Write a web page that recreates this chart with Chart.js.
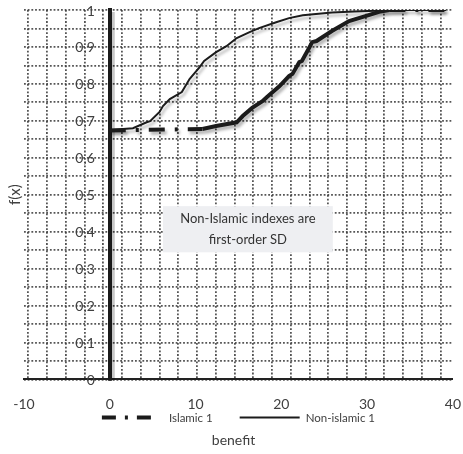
<!DOCTYPE html>
<html>
<head>
<meta charset="utf-8">
<script src="https://cdn.jsdelivr.net/npm/chart.js@4.4.1/dist/chart.umd.min.js"></script>
<style>
    html, body { margin: 0; padding: 0; background: #fff; }
    #wrap { width: 463px; height: 454px; }
</style>
</head>
<body>
<div id="wrap"><canvas id="myChart"></canvas></div>
<script>
// benefit values (x) and cumulative share f(x) (y)
const islamicX = [0, 10.8, 12.4, 14.8, 15.5, 16.6, 17.8, 18.3, 19.0, 19.8, 20.9, 21.3, 22.1, 22.4, 23.3, 23.6, 24.1, 25.9, 27.9, 29.9, 31.4, 32.6, 39.2];
const islamicY = [0.674, 0.678, 0.686, 0.696, 0.713, 0.735, 0.753, 0.764, 0.778, 0.794, 0.821, 0.827, 0.859, 0.862, 0.900, 0.913, 0.916, 0.943, 0.970, 0.984, 0.995, 1, 1];

const nonIslamicX = [0, 2.7, 4.3, 4.7, 5.8, 6.2, 7.0, 8.4, 9.3, 10.5, 11.0, 12.4, 13.6, 14.8, 16.3, 17.4, 19.4, 20.9, 22.5, 25.9, 28.5, 31.0, 34.0, 39.2];
const nonIslamicY = [0.675, 0.680, 0.696, 0.699, 0.724, 0.740, 0.759, 0.778, 0.813, 0.846, 0.862, 0.886, 0.902, 0.924, 0.940, 0.951, 0.967, 0.978, 0.986, 0.993, 0.996, 0.998, 1, 1];

const xTicks = [-10, 0, 10, 20, 30, 40];
const yTicks = [0, 0.1, 0.2, 0.3, 0.4, 0.5, 0.6, 0.7, 0.8, 0.9, 1];

const seriesNames = ['Islamic 1', 'Non-islamic 1'];
const noteLines = ['Non-Islamic indexes are', 'first-order SD'];

const FONT = 'Lato, "Open Sans", sans-serif';
const TEXT = '#404040';
const LINE = '#1b1b1b';
const GRID = 'rgba(55,55,55,0.85)';
const ISLAMIC_DASH = [14, 9, 3, 9];

function toPoints(xs, ys) {
    return xs.map((x, i) => ({ x: x, y: ys[i] }));
}

// Excel style drop shadow under the series lines
const shadowPlugin = {
    id: 'lineShadow',
    beforeDatasetDraw(chart) {
        const ctx = chart.ctx;
        ctx.save();
        ctx.shadowColor = 'rgba(0,0,0,0.3)';
        ctx.shadowBlur = 3;
        ctx.shadowOffsetX = 2;
        ctx.shadowOffsetY = 3;
    },
    afterDatasetDraw(chart) {
        chart.ctx.restore();
    }
};

// grey band beside the thick vertical axis, plus its tick labels (left of x = 0)
const yAxisPlugin = {
    id: 'yAxisExtras',
    beforeDatasetsDraw(chart) {
        const { ctx, chartArea, scales } = chart;
        const x0 = scales.x.getPixelForValue(0);
        ctx.save();
        ctx.fillStyle = 'rgba(0,0,0,0.22)';
        ctx.fillRect(x0 + 2, chartArea.top + 2, 3, chartArea.bottom - chartArea.top - 1);
        ctx.fillStyle = TEXT;
        ctx.font = '14px ' + FONT;
        ctx.textAlign = 'right';
        ctx.textBaseline = 'middle';
        yTicks.forEach(v => {
            ctx.fillText(String(v).replace('.', ','), x0 - 15, scales.y.getPixelForValue(v) + 1);
        });
        ctx.restore();
    }
};

// text box inside the plot
const notePlugin = {
    id: 'noteBox',
    afterDatasetsDraw(chart) {
        const { ctx, scales } = chart;
        const left = scales.x.getPixelForValue(6.2);
        const right = scales.x.getPixelForValue(26.0);
        const top = scales.y.getPixelForValue(0.469);
        const bottom = scales.y.getPixelForValue(0.344);
        ctx.save();
        ctx.fillStyle = '#eeeff2';
        ctx.fillRect(left, top, right - left, bottom - top);
        ctx.fillStyle = '#333';
        ctx.font = '13px ' + FONT;
        ctx.textAlign = 'center';
        ctx.textBaseline = 'middle';
        const cx = (left + right) / 2;
        ctx.fillText(noteLines[0], cx, scales.y.getPixelForValue(0.434));
        ctx.fillText(noteLines[1], cx, scales.y.getPixelForValue(0.377));
        ctx.restore();
    }
};

// legend sits between the tick labels and the axis title
const legendPlugin = {
    id: 'midLegend',
    afterDraw(chart) {
        const { ctx, chartArea } = chart;
        const items = [
            { text: seriesNames[0], width: 4, dash: ISLAMIC_DASH, len: 50, gap: 17 },
            { text: seriesNames[1], width: 2, dash: [], len: 60, gap: 6 }
        ];
        const between = 27;
        ctx.save();
        ctx.font = '11.5px ' + FONT;
        let total = 0;
        items.forEach((it, i) => {
            it.tw = ctx.measureText(it.text).width;
            total += it.len + it.gap + it.tw + (i ? between : 0);
        });
        let x = (chartArea.left + chartArea.right) / 2 - total / 2;
        const y = chartArea.bottom + 38;
        items.forEach(it => {
            ctx.strokeStyle = LINE;
            ctx.lineWidth = it.width;
            ctx.setLineDash(it.dash);
            ctx.beginPath();
            ctx.moveTo(x, y);
            ctx.lineTo(x + it.len, y);
            ctx.stroke();
            ctx.setLineDash([]);
            ctx.fillStyle = TEXT;
            ctx.textBaseline = 'middle';
            ctx.textAlign = 'left';
            ctx.fillText(it.text, x + it.len + it.gap, y + 1);
            x += it.len + it.gap + it.tw + between;
        });
        ctx.restore();
    }
};

const ctx = document.getElementById('myChart').getContext('2d');
const myChart = new Chart(ctx, {
    type: 'line',
    data: {
        datasets: [{
            label: seriesNames[0],
            data: toPoints(islamicX, islamicY),
            borderColor: LINE,
            borderWidth: 4,
            pointRadius: 0,
            tension: 0,
            // only the long flat run shows the dash-dot pattern
            segment: {
                borderDash: c => (c.p1.parsed.x - c.p0.parsed.x > 5 ? [16, 10, 3, 10] : undefined)
            }
        }, {
            label: seriesNames[1],
            data: toPoints(nonIslamicX, nonIslamicY),
            borderColor: LINE,
            borderWidth: 2,
            pointRadius: 0,
            tension: 0
        }]
    },
    options: {
        responsive: true,
        maintainAspectRatio: false,
        animation: false,
        layout: { padding: { top: 10, right: 0, left: 4, bottom: 0 } },
        scales: {
            x: {
                type: 'linear',
                min: -10,
                max: 40,
                position: 'bottom',
                afterBuildTicks: axis => { axis.ticks = xTicks.map(v => ({ value: v })); },
                ticks: {
                    color: TEXT,
                    font: { family: FONT, size: 14, lineHeight: 1.1 },
                    padding: 2,
                    maxRotation: 0,
                    // blank first line drops the numbers below the axis like the original
                    callback: v => ['', String(v)]
                },
                grid: { display: false, drawTicks: false },
                border: { display: true, color: '#222', width: 2 }
            },
            xg: {
                type: 'linear',
                min: -10,
                max: 40,
                position: 'bottom',
                afterBuildTicks: axis => {
                    const t = [];
                    for (let v = -9.5; v < 40; v += 2.185) t.push({ value: v });
                    axis.ticks = t;
                },
                ticks: { display: false },
                grid: { color: GRID, lineWidth: 1.8, drawTicks: false },
                border: { display: false, dash: [1.8, 1.9] }
            },
            y: {
                type: 'linear',
                min: 0,
                max: 1,
                position: { x: 0 },
                afterBuildTicks: axis => {
                    const t = [];
                    for (let i = 0; i <= 20; i++) t.push({ value: i / 20 });
                    axis.ticks = t;
                },
                ticks: { display: false },
                grid: { color: GRID, lineWidth: 1.8, drawTicks: false },
                border: { display: true, color: LINE, width: 4, dash: [1.8, 1.9] }
            },
            yt: {
                type: 'linear',
                position: 'left',
                ticks: { display: false },
                grid: { display: false, drawTicks: false },
                border: { display: false },
                title: { display: true, text: 'f(x)', color: TEXT, font: { family: FONT, size: 15 }, padding: { top: 2, bottom: 0 } }
            }
        },
        plugins: {
            legend: { display: false },
            title: {
                display: true,
                position: 'bottom',
                text: 'benefit',
                color: TEXT,
                font: { family: FONT, size: 14, weight: 'normal' },
                padding: { top: 18, bottom: 5 }
            },
            tooltip: { enabled: false }
        }
    },
    plugins: [shadowPlugin, yAxisPlugin, notePlugin, legendPlugin]
});
</script>
</body>
</html>
